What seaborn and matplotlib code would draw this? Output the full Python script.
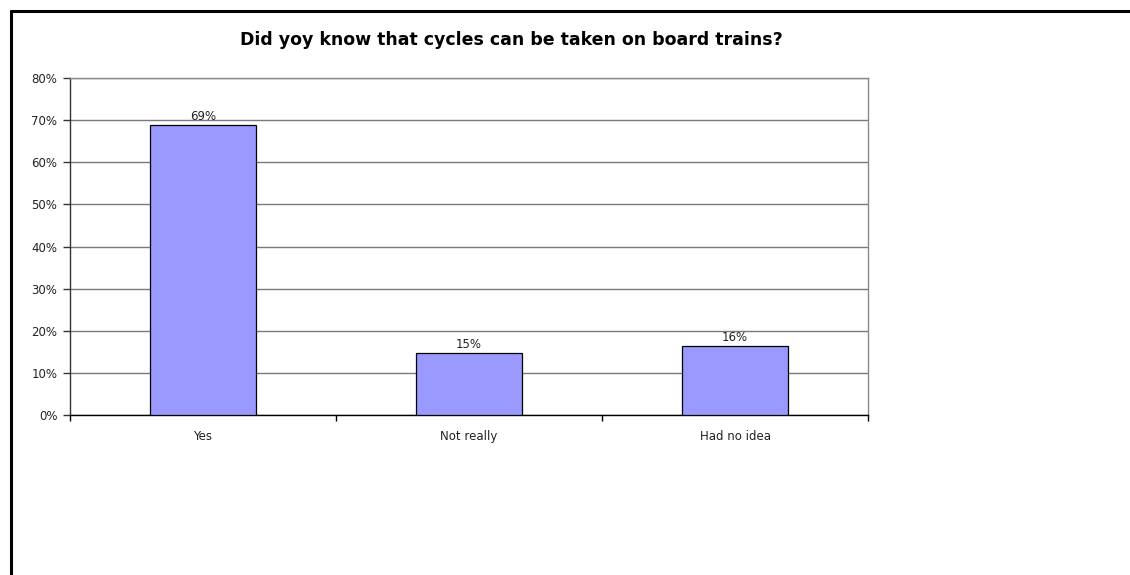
import matplotlib
matplotlib.use("Agg")
import matplotlib.pyplot as plt
from matplotlib.lines import Line2D
from matplotlib.ticker import FixedLocator, PercentFormatter
import seaborn as sns
import pandas as pd

# Survey answers and their shares
categories = ["Yes", "Not really", "Had no idea"]
shares = [0.688, 0.147, 0.164]
title = "Did yoy know that cycles can be taken on board trains?"

sns.set_theme(style="white")
plt.rcParams["font.family"] = ["DejaVu Sans"]

df = pd.DataFrame({"answer": categories, "share": shares})

fig = plt.figure(figsize=(11.3, 5.75), dpi=100)
ax = fig.add_axes([70 / 1130, 1 - 415 / 575, 798 / 1130, 337 / 575])

sns.barplot(data=df, x="answer", y="share", color="#9999FF", saturation=1,
            edgecolor="black", linewidth=0.9, width=0.4, ax=ax, zorder=3)

ax.set_ylim(0, 0.8)
ax.set_xlim(-0.5, len(categories) - 0.5)
ax.set_yticks([i / 10 for i in range(9)])
ax.yaxis.set_major_formatter(PercentFormatter(1.0, decimals=0))
ax.yaxis.grid(True, color="#7a7a7a", linewidth=1.0, zorder=0)
ax.set_axisbelow(True)

# category boundaries carry the tick marks, labels sit between them
ax.xaxis.set_major_locator(FixedLocator([i - 0.5 for i in range(len(categories) + 1)]))
ax.xaxis.set_major_formatter(plt.NullFormatter())
ax.xaxis.set_minor_locator(FixedLocator(list(range(len(categories)))))
ax.set_xticklabels(categories, minor=True)
ax.tick_params(axis="x", which="major", length=4, width=1, color="black", direction="out", bottom=True)
ax.tick_params(axis="x", which="minor", length=0, labelsize=8.5, pad=11, colors="#222222")
ax.tick_params(axis="y", length=5, width=1, color="#333333", direction="out", left=True,
               labelsize=8.5, pad=4, labelcolor="#222222")

ax.set_xlabel("")
ax.set_ylabel("")

for side in ["top", "right"]:
    ax.spines[side].set_visible(True)
    ax.spines[side].set_color("#8a8a8a")
    ax.spines[side].set_linewidth(1.0)
ax.spines["left"].set_color("#333333")
ax.spines["left"].set_linewidth(1.0)
ax.spines["bottom"].set_color("black")
ax.spines["bottom"].set_linewidth(1.0)

for bar, v in zip(ax.patches, shares):
    ax.annotate(f"{v:.0%}", (bar.get_x() + bar.get_width() / 2, bar.get_height()),
                xytext=(0, 1.5), textcoords="offset points", ha="center", va="bottom",
                fontsize=8.5, color="#222222")

fig.text(511 / 1130, 1 - 40 / 575, title, ha="center", va="center",
         fontsize=12.5, fontweight="bold", color="black")

# chart frame on the left and top edges
fig.add_artist(Line2D([11 / 1130, 11 / 1130], [0, 1 - 11 / 575], transform=fig.transFigure,
                      color="black", linewidth=2.2))
fig.add_artist(Line2D([11 / 1130, 1], [1 - 11 / 575, 1 - 11 / 575], transform=fig.transFigure,
                      color="black", linewidth=2.2))

fig.savefig("out.png", dpi=100, facecolor="white")
